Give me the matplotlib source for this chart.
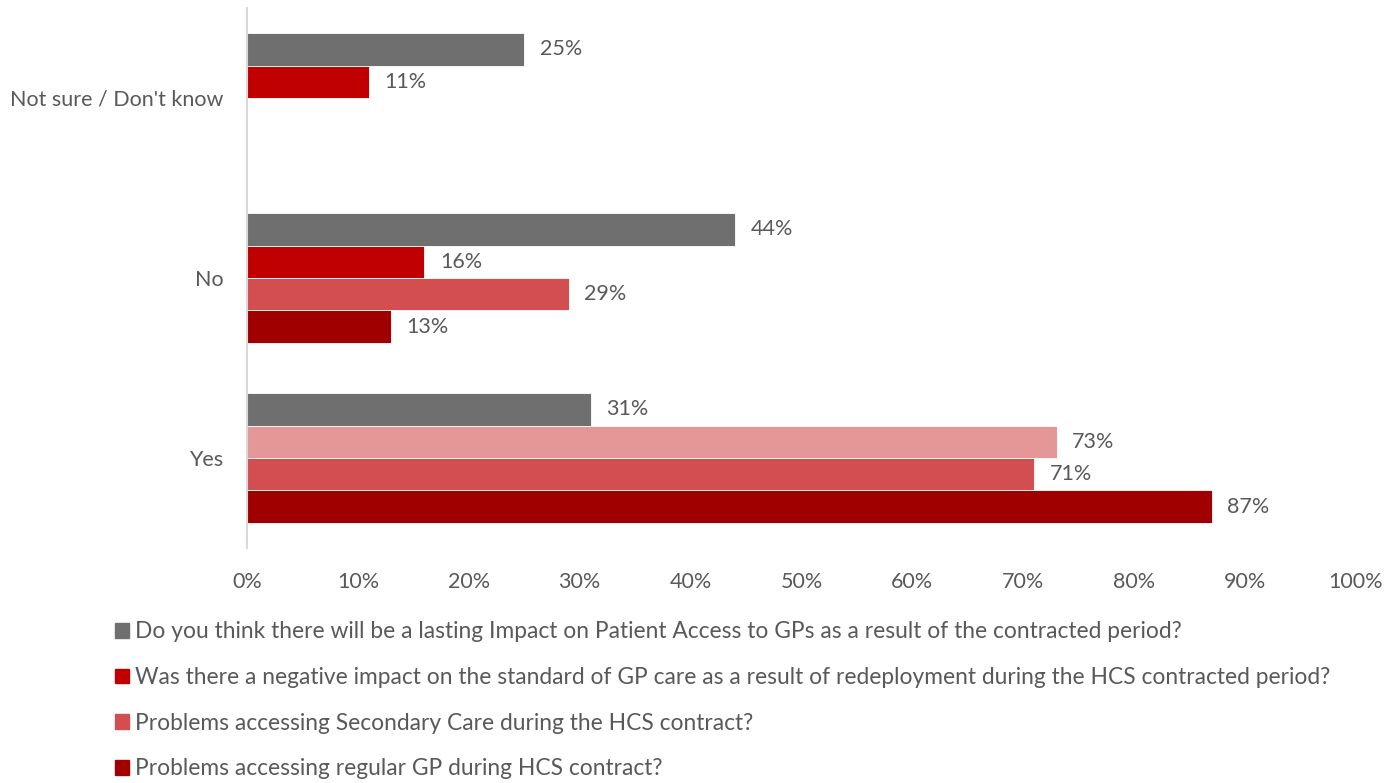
import matplotlib
matplotlib.use("Agg")
import matplotlib.pyplot as plt
import numpy as np

plt.rcParams['font.family'] = ['Lato', 'DejaVu Sans']

categories = ["Yes", "No", "Not sure / Don't know"]
series_names = [
    "Do you think there will be a lasting Impact on Patient Access to GPs as a result of the contracted period?",
    "Was there a negative impact on the standard of GP care as a result of redeployment during the HCS contracted period?",
    "Problems accessing Secondary Care during the HCS contract?",
    "Problems accessing regular GP during HCS contract?",
]
# values per series, ordered as categories (None = no response option)
lasting_impact = [31, 44, 25]
negative_impact = [73, 16, 11]
secondary_care = [71, 29, None]
regular_gp = [87, 13, None]
series_values = [lasting_impact, negative_impact, secondary_care, regular_gp]

colors = ["#6F6F6F", "#C00000", "#D34E50", "#A00000"]
# the "Yes" point of the second series is shown in a lighter tint
point_colors = {(1, 0): "#E59797"}
text_color = "#595959"
fs = 15.5

fig = plt.figure(figsize=(13.98, 7.83), dpi=100)
W, H = 1398, 783
ax = fig.add_axes([247 / W, 1 - 548 / H, (1356 - 247) / W, (548 - 8) / H])

n = len(series_names)
bar_h = 0.18
y = np.arange(len(categories))
for i, vals in enumerate(series_values):
    offset = (n / 2 - 0.5 - i) * bar_h
    for j, v in enumerate(vals):
        if v is None:
            continue
        c = point_colors.get((i, j), colors[i])
        ax.barh(y[j] + offset, v, height=bar_h, color=c,
                edgecolor="white", linewidth=0.6)
        ax.text(v + 1.4, y[j] + offset, f"{v}%", va="center", ha="left",
                fontsize=fs, color=text_color)

ax.set_xlim(0, 100)
ax.set_ylim(-0.5, len(categories) - 0.5)
ax.set_yticks(y)
ax.set_yticklabels(categories)
ax.set_xticks(np.arange(0, 101, 10))
ax.set_xticklabels([f"{t}%" for t in range(0, 101, 10)])
ax.tick_params(axis="both", length=0, labelsize=fs, labelcolor=text_color)
ax.tick_params(axis="y", pad=17)
ax.tick_params(axis="x", pad=17)
for s in ["top", "right", "bottom"]:
    ax.spines[s].set_visible(False)
ax.spines["left"].set_color("#D9D9D9")
ax.spines["left"].set_linewidth(1.5)

handles = [plt.Rectangle((0, 0), 1, 1, color=c) for c in colors]
fig.legend(handles, series_names, loc="upper left",
           bbox_to_anchor=(95 / W, 1 - 601 / H), frameon=False,
           fontsize=16.4, labelcolor=text_color, handlelength=0.6,
           handleheight=0.6, handletextpad=0.25, labelspacing=1.08)

fig.savefig("out.png", dpi=100)
